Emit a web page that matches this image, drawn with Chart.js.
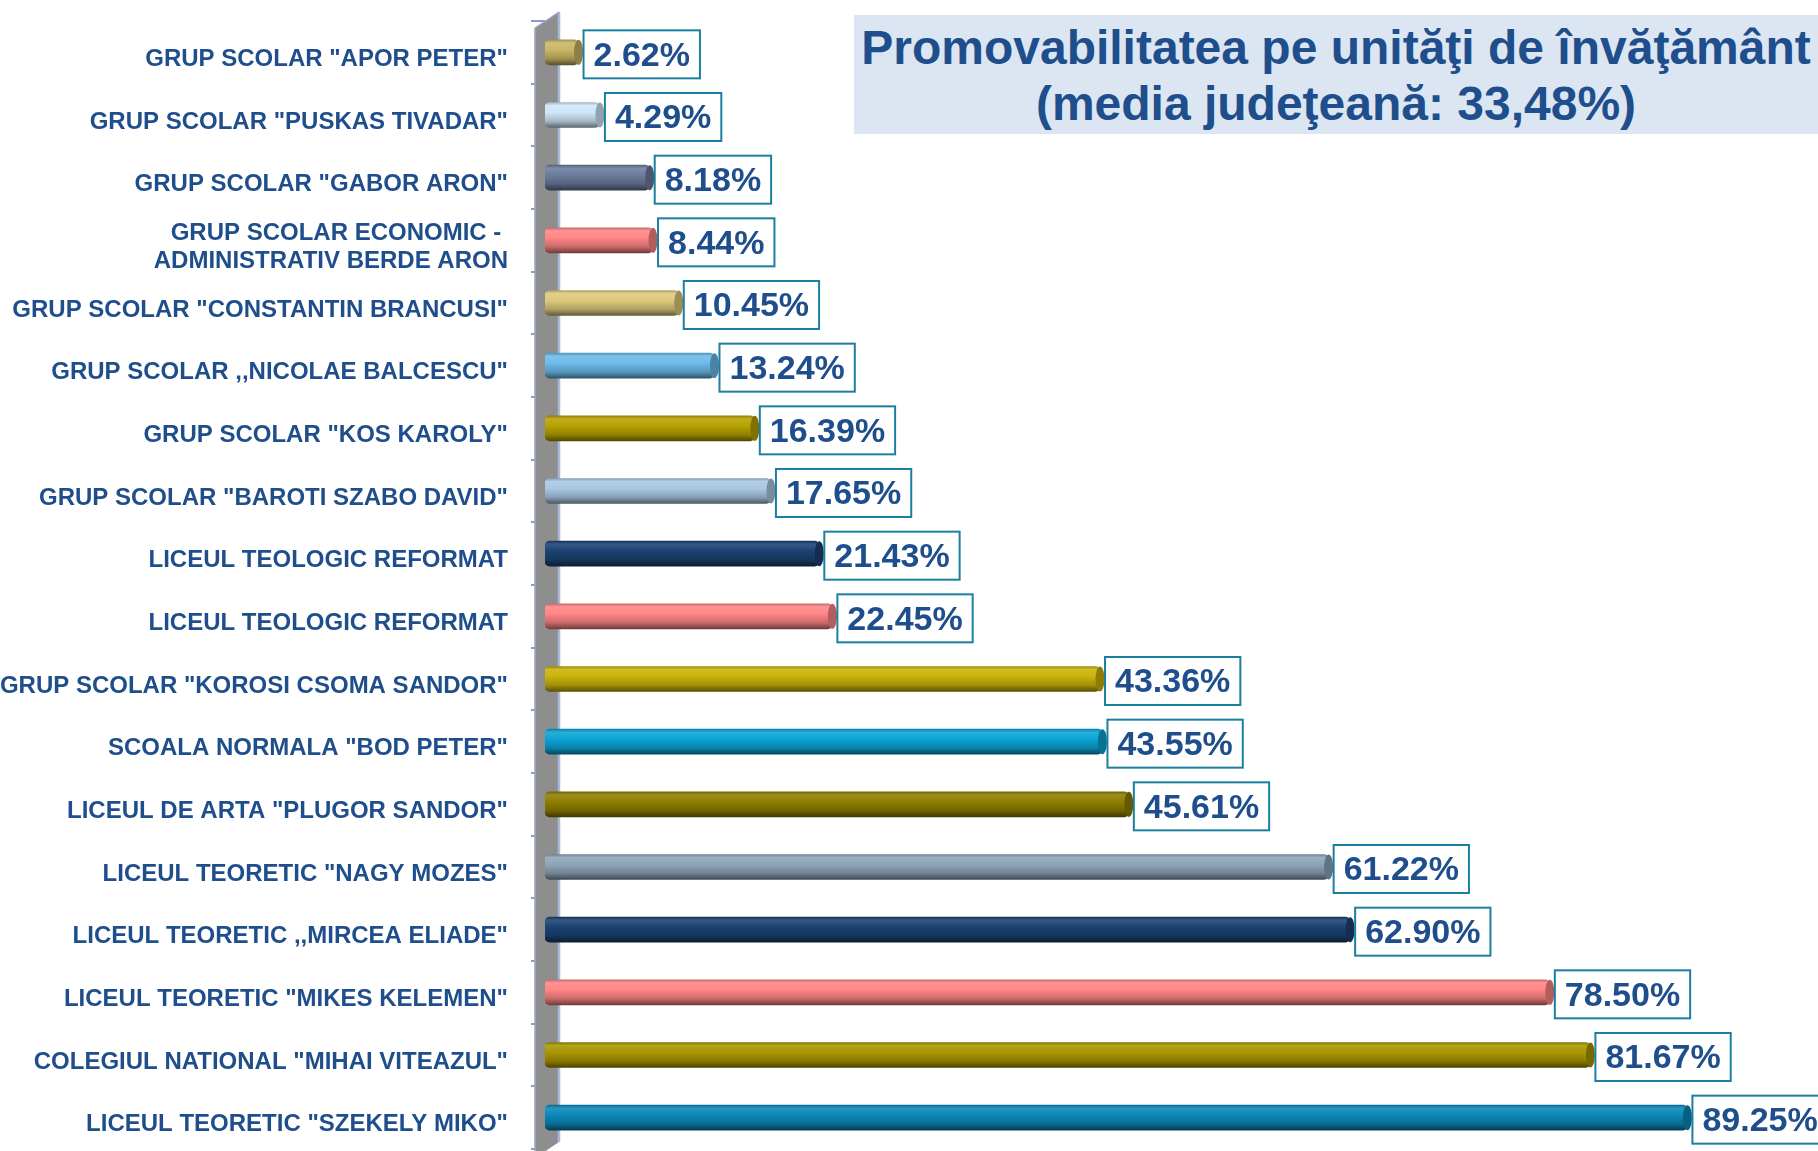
<!DOCTYPE html>
<html>
<head>
<meta charset="utf-8">
<script src="https://cdn.jsdelivr.net/npm/chart.js@4.4.0/dist/chart.umd.min.js"></script>
<style>
  body { margin: 0; background: #fff; overflow: hidden; }
  .wrap { position: relative; width: 1818px; height: 1151px; }
  .title {
    position: absolute; left: 854px; top: 15px; width: 964px; height: 119px;
    box-sizing: border-box; padding-top: 5px;
    background: #dce6f2; color: #1f4e8c;
    font: bold 48px "Liberation Sans", Arial, sans-serif;
    line-height: 56px; text-align: center; white-space: nowrap;
  }
</style>
</head>
<body>
<div class="wrap">
  <canvas id="promo" width="1818" height="1151"></canvas>
  <div class="title">Promovabilitatea pe unităţi de învăţământ<br>(media judeţeană: 33,48%)</div>
</div>
<script>
const schools = [
  'GRUP SCOLAR "APOR PETER"',
  'GRUP SCOLAR "PUSKAS TIVADAR"',
  'GRUP SCOLAR "GABOR ARON"',
  ['GRUP SCOLAR ECONOMIC - ', 'ADMINISTRATIV BERDE ARON'],
  'GRUP SCOLAR "CONSTANTIN BRANCUSI"',
  'GRUP SCOLAR ,,NICOLAE BALCESCU"',
  'GRUP SCOLAR "KOS KAROLY"',
  'GRUP SCOLAR "BAROTI SZABO DAVID"',
  'LICEUL TEOLOGIC REFORMAT',
  'LICEUL TEOLOGIC REFORMAT',
  'GRUP SCOLAR "KOROSI CSOMA SANDOR"',
  'SCOALA NORMALA "BOD PETER"',
  'LICEUL DE ARTA "PLUGOR SANDOR"',
  'LICEUL TEORETIC "NAGY MOZES"',
  'LICEUL TEORETIC ,,MIRCEA ELIADE"',
  'LICEUL TEORETIC "MIKES KELEMEN"',
  'COLEGIUL NATIONAL "MIHAI VITEAZUL"',
  'LICEUL TEORETIC "SZEKELY MIKO"'
];

const promovati = [2.62, 4.29, 8.18, 8.44, 10.45, 13.24, 16.39, 17.65, 21.43,
  22.45, 43.36, 43.55, 45.61, 61.22, 62.90, 78.50, 81.67, 89.25];

// culori pentru fiecare bara (ton de mijloc al cilindrului)
const barColors = [
  '#c9b665', '#cfe6f8', '#6c7c9c', '#ff8585', '#dcc97c', '#6cbbea',
  '#b7a200', '#aac8e3', '#1b4272', '#ff8585', '#c9b30a', '#0ba3d4',
  '#8f7e00', '#8ea4b9', '#1b4272', '#ff8585', '#a99600', '#0a88b8'
];

const FONT = '"Liberation Sans", Arial, sans-serif';

function shade(hex, amt) {
  const n = parseInt(hex.slice(1), 16);
  let r = (n >> 16) & 255, g = (n >> 8) & 255, b = n & 255;
  const t = amt < 0 ? 0 : 255, p = Math.abs(amt);
  r = Math.round(r + (t - r) * p);
  g = Math.round(g + (t - g) * p);
  b = Math.round(b + (t - b) * p);
  return 'rgb(' + r + ',' + g + ',' + b + ')';
}

function cylinderFill(context) {
  const chart = context.chart;
  const base = barColors[context.dataIndex];
  if (!chart.chartArea || !chart.scales.y) return base;
  const yc = chart.scales.y.getPixelForValue(context.dataIndex);
  const g = chart.ctx.createLinearGradient(0, yc - 12.5, 0, yc + 12.5);
  g.addColorStop(0, shade(base, -0.2));
  g.addColorStop(0.12, shade(base, 0.12));
  g.addColorStop(0.4, base);
  g.addColorStop(0.75, shade(base, -0.2));
  g.addColorStop(1, shade(base, -0.55));
  return g;
}

// peretele gri din stanga (efect 3D)
const wallPlugin = {
  id: 'wall',
  beforeDatasetsDraw(chart) {
    const ctx = chart.ctx;
    const a = chart.chartArea;
    ctx.save();
    ctx.fillStyle = '#8e8e8e';
    ctx.beginPath();
    ctx.moveTo(a.left - 10, a.top + 7);
    ctx.lineTo(a.left + 14, a.top - 9);
    ctx.lineTo(a.left + 14, chart.height - 9);
    ctx.lineTo(a.left - 10, chart.height + 7);
    ctx.closePath();
    ctx.fill();
    ctx.strokeStyle = '#aab8d8';
    ctx.lineWidth = 2.5;
    ctx.beginPath();
    ctx.moveTo(a.left + 14, a.top - 9);
    ctx.lineTo(a.left + 14, chart.height - 9);
    ctx.stroke();
    ctx.strokeStyle = '#9aa8c8';
    ctx.lineWidth = 1.5;
    ctx.beginPath();
    ctx.moveTo(a.left - 10, a.top + 7);
    ctx.lineTo(a.left + 14, a.top - 9);
    ctx.moveTo(a.left - 10, a.top + 7);
    ctx.lineTo(a.left - 10, chart.height + 7);
    ctx.stroke();
    ctx.restore();
  }
};

// capacul cilindrului + eticheta cu valoarea
const valuePlugin = {
  id: 'values',
  afterDatasetsDraw(chart) {
    const ctx = chart.ctx;
    const meta = chart.getDatasetMeta(0);
    ctx.save();
    meta.data.forEach((bar, i) => {
      const base = barColors[i];
      const ry = bar.height / 2;
      ctx.fillStyle = shade(base, -0.3);
      ctx.beginPath();
      ctx.ellipse(bar.x, bar.y, 4.5, ry, 0, 0, Math.PI * 2);
      ctx.fill();
    });
    ctx.font = 'bold 34px ' + FONT;
    ctx.textBaseline = 'middle';
    meta.data.forEach((bar, i) => {
      const text = promovati[i].toFixed(2) + '%';
      const w = ctx.measureText(text).width + 20;
      const x = bar.x + 5;
      const y = bar.y + 2 - 24;
      ctx.fillStyle = '#ffffff';
      ctx.fillRect(x, y, w, 48);
      ctx.strokeStyle = '#1b7fa0';
      ctx.lineWidth = 2;
      ctx.strokeRect(x, y, w, 48);
      ctx.fillStyle = '#1f4e8c';
      ctx.fillText(text, x + 10, y + 26);
    });
    ctx.restore();
  }
};

new Chart(document.getElementById('promo'), {
  type: 'bar',
  data: {
    labels: schools,
    datasets: [
      {
        data: promovati,
        backgroundColor: cylinderFill,
        borderWidth: 0,
        borderRadius: 5,
        borderSkipped: false,
        barThickness: 25
      }
    ]
  },
  options: {
    indexAxis: 'y',
    responsive: false,
    animation: false,
    layout: { padding: { top: 21, bottom: 2, left: 0, right: 0 } },
    plugins: {
      legend: { display: false },
      tooltip: { enabled: false }
    },
    scales: {
      x: { display: false, min: 0, max: 99.45 },
      y: {
        grid: { drawOnChartArea: false, offset: true, tickLength: 14, color: '#8c9cc4', lineWidth: 2 },
        border: { display: false },
        ticks: {
          autoSkip: false,
          color: '#1f4e8c',
          padding: 23,
          labelOffset: 7,
          font: { family: FONT, size: 24, weight: 'bold', lineHeight: 1.2 }
        },
        afterFit(scale) {
          scale.width = 545;
          scale.paddingTop = 0;
          scale.paddingBottom = 0;
        }
      }
    }
  },
  plugins: [wallPlugin, valuePlugin]
});
</script>
</body>
</html>
